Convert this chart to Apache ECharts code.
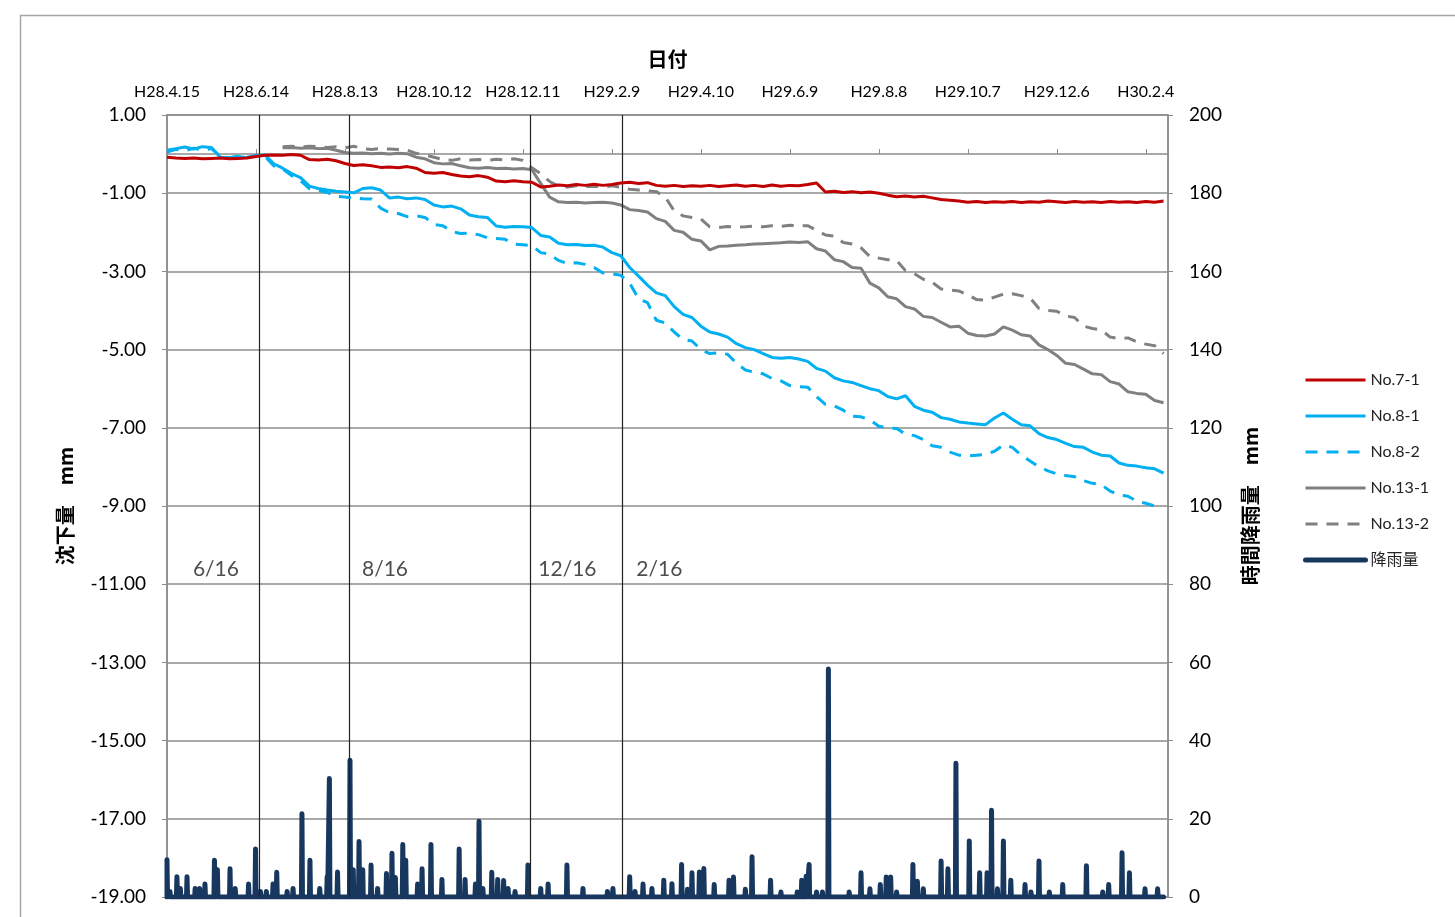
<!DOCTYPE html>
<html>
<head>
<meta charset="utf-8">
<script src="https://cdn.jsdelivr.net/npm/echarts@6/dist/echarts.min.js"></script>
<style>
html,body{margin:0;padding:0;background:#fff;}
#chart{width:1455px;height:917px;}
</style>
</head>
<body>
<div id="chart"></div>
<script>
// ---- tick labels ----
const xTickDays = [0,60,120,180,240,300,360,420,480,540,600,660];
const xTickLabels = ['H28.4.15','H28.6.14','H28.8.13','H28.10.12','H28.12.11','H29.2.9','H29.4.10','H29.6.9','H29.8.8','H29.10.7','H29.12.6','H30.2.4'];
const leftTicks = [-19,-17,-15,-13,-11,-9,-7,-5,-3,-1,1];

// ---- measurement days (days since H28.4.15) ----
const days = [0,6,12,18,24,30,36,42,48,54,60,66,72,78,84,90,96,102,108,114,120,126,132,138,144,150,156,162,168,174,180,186,192,198,204,210,216,222,228,234,240,246,252,258,264,270,276,282,288,294,300,306,312,318,324,330,336,342,348,354,360,366,372,378,384,390,396,402,408,414,420,426,432,438,444,450,456,462,468,474,480,486,492,498,504,510,516,522,528,534,540,546,552,558,564,570,576,582,588,594,600,606,612,618,624,630,636,642,648,654,660,666,672];

// ---- settlement (mm) ----
const no7_1 = [-0.08,-0.10,-0.11,-0.10,-0.12,-0.11,-0.10,-0.12,-0.11,-0.10,-0.06,-0.03,-0.02,-0.03,-0.01,-0.03,-0.14,-0.15,-0.13,-0.17,-0.24,-0.29,-0.27,-0.30,-0.34,-0.33,-0.35,-0.32,-0.36,-0.47,-0.49,-0.47,-0.52,-0.56,-0.58,-0.55,-0.59,-0.69,-0.71,-0.68,-0.71,-0.72,-0.84,-0.82,-0.79,-0.81,-0.78,-0.80,-0.77,-0.80,-0.78,-0.74,-0.72,-0.75,-0.73,-0.80,-0.82,-0.80,-0.83,-0.81,-0.82,-0.80,-0.83,-0.81,-0.79,-0.82,-0.80,-0.83,-0.79,-0.82,-0.80,-0.81,-0.78,-0.74,-0.97,-0.95,-0.98,-0.96,-0.99,-0.97,-1.00,-1.05,-1.09,-1.07,-1.10,-1.08,-1.12,-1.16,-1.18,-1.20,-1.23,-1.21,-1.24,-1.22,-1.23,-1.21,-1.24,-1.22,-1.23,-1.20,-1.22,-1.24,-1.21,-1.23,-1.22,-1.24,-1.21,-1.23,-1.22,-1.24,-1.21,-1.23,-1.20];
const no8_1 = [0.10,0.14,0.18,0.13,0.19,0.17,-0.08,-0.10,-0.06,-0.09,-0.04,-0.02,-0.25,-0.36,-0.50,-0.60,-0.82,-0.88,-0.92,-0.95,-0.97,-0.99,-0.88,-0.86,-0.92,-1.12,-1.10,-1.14,-1.12,-1.16,-1.30,-1.35,-1.33,-1.40,-1.56,-1.60,-1.62,-1.84,-1.87,-1.85,-1.86,-1.88,-2.08,-2.12,-2.28,-2.32,-2.31,-2.34,-2.33,-2.38,-2.52,-2.60,-2.90,-3.12,-3.35,-3.55,-3.62,-3.90,-4.10,-4.18,-4.40,-4.55,-4.60,-4.68,-4.85,-4.95,-5.00,-5.10,-5.20,-5.22,-5.20,-5.24,-5.30,-5.48,-5.55,-5.72,-5.80,-5.84,-5.92,-6.00,-6.05,-6.20,-6.26,-6.18,-6.45,-6.55,-6.60,-6.74,-6.78,-6.85,-6.88,-6.90,-6.92,-6.75,-6.62,-6.78,-6.92,-6.95,-7.15,-7.25,-7.30,-7.40,-7.48,-7.50,-7.62,-7.70,-7.72,-7.90,-7.96,-7.98,-8.02,-8.05,-8.16];
const no8_2 = [0.05,0.12,0.08,0.15,0.10,0.14,-0.06,-0.09,-0.05,-0.08,-0.04,-0.06,-0.30,-0.38,-0.55,-0.68,-0.88,-0.93,-0.98,-1.08,-1.10,-1.12,-1.14,-1.15,-1.38,-1.50,-1.52,-1.60,-1.58,-1.62,-1.80,-1.83,-1.98,-2.03,-2.02,-2.06,-2.14,-2.16,-2.18,-2.30,-2.32,-2.34,-2.52,-2.56,-2.72,-2.80,-2.78,-2.82,-2.90,-3.04,-3.06,-3.10,-3.30,-3.70,-3.80,-4.25,-4.32,-4.55,-4.74,-4.78,-5.00,-5.10,-5.08,-5.12,-5.35,-5.52,-5.58,-5.62,-5.74,-5.80,-5.92,-5.95,-5.96,-6.20,-6.40,-6.44,-6.55,-6.70,-6.72,-6.80,-6.96,-7.00,-7.02,-7.16,-7.20,-7.30,-7.46,-7.50,-7.62,-7.70,-7.72,-7.70,-7.68,-7.60,-7.44,-7.50,-7.70,-7.85,-8.00,-8.10,-8.18,-8.22,-8.25,-8.35,-8.42,-8.45,-8.62,-8.72,-8.75,-8.88,-8.93,-9.00,null];
const no13_1 = [null,null,null,null,null,null,null,null,null,null,null,null,null,0.16,0.17,0.15,0.16,0.14,0.15,0.10,0.04,0.02,0.03,0.01,0.02,0.00,0.02,0.01,-0.08,-0.12,-0.22,-0.25,-0.24,-0.30,-0.35,-0.36,-0.34,-0.37,-0.36,-0.38,-0.37,-0.40,-0.75,-1.10,-1.22,-1.24,-1.23,-1.25,-1.24,-1.23,-1.25,-1.30,-1.42,-1.44,-1.48,-1.65,-1.72,-1.95,-2.00,-2.18,-2.22,-2.45,-2.36,-2.35,-2.33,-2.32,-2.30,-2.29,-2.28,-2.27,-2.25,-2.26,-2.24,-2.42,-2.48,-2.70,-2.75,-2.90,-2.92,-3.30,-3.42,-3.65,-3.70,-3.90,-3.96,-4.15,-4.18,-4.30,-4.42,-4.40,-4.58,-4.64,-4.65,-4.60,-4.42,-4.50,-4.62,-4.65,-4.88,-5.00,-5.15,-5.35,-5.38,-5.50,-5.62,-5.64,-5.82,-5.88,-6.08,-6.12,-6.14,-6.30,-6.36];
const no13_2 = [null,null,null,null,null,null,null,null,null,null,null,null,null,0.19,0.20,0.18,0.20,0.19,0.17,0.19,0.16,0.20,0.14,0.12,0.14,0.13,0.12,0.10,0.02,-0.02,-0.08,-0.14,-0.16,-0.12,-0.15,-0.14,-0.16,-0.13,-0.15,-0.12,-0.16,-0.35,-0.50,-0.70,-0.82,-0.84,-0.81,-0.83,-0.82,-0.84,-0.81,-0.85,-0.90,-0.92,-0.94,-0.96,-1.10,-1.45,-1.58,-1.62,-1.66,-1.86,-1.88,-1.85,-1.87,-1.86,-1.84,-1.86,-1.83,-1.85,-1.82,-1.84,-1.83,-1.95,-2.07,-2.10,-2.26,-2.30,-2.40,-2.62,-2.66,-2.70,-2.72,-2.98,-3.06,-3.20,-3.28,-3.45,-3.48,-3.50,-3.60,-3.72,-3.74,-3.66,-3.58,-3.57,-3.62,-3.68,-3.95,-4.00,-4.02,-4.14,-4.18,-4.40,-4.46,-4.50,-4.68,-4.72,-4.70,-4.80,-4.86,-4.90,-5.10];

// ---- hourly rainfall (mm) ----
const rainDays = [0,2,6.7,9,13.5,19,22,25.6,32,34,42.5,46,55,59.7,63,67,71.5,74,81,85,91,96.4,103,108,109.5,115,123.4,125.6,129.5,132,137.6,142,148,151.7,154,159,161,169,172,178,185.4,197,201,208,210.4,213,219,223,227,230,234.7,243.4,252,257,269.7,280.5,297,300.7,312,315.6,321,327,335,340.5,347,351,354,359,362,369,379,382,390,394.5,407,414,425,428,431,433,438,442,446,460,468,474,481,485,488,492,503,506,510,522,526.6,532,541,548,553,556,560,564,569,578.6,582.6,588,595,604,620,631,635,644,649,659.5,668];
const rainValues = [9.5,1.4,5.2,2.2,5.2,2.2,2.2,3.3,9.4,7.0,7.2,2.2,3.3,12.3,1.4,1.4,3.3,6.3,1.4,2.2,21.3,9.4,2.2,5.2,30.3,6.4,35.0,7.0,14.2,7.0,8.2,2.2,6.0,11.2,5.0,13.4,9.4,3.3,7.2,13.4,4.5,12.3,4.5,3.3,19.4,2.2,6.3,4.5,4.2,2.2,1.4,8.2,2.2,3.3,8.2,2.2,1.4,2.2,5.2,1.4,3.3,2.2,4.3,3.4,8.3,2.0,6.2,6.4,7.3,3.2,4.3,5.1,2.0,10.3,4.3,1.3,1.3,4.3,5.3,8.3,1.3,1.3,58.3,1.3,6.2,2.1,3.2,5.1,5.1,1.3,8.3,4.0,2.1,9.2,7.2,34.2,14.3,6.2,6.2,22.2,2.1,14.3,4.3,3.2,1.3,9.2,1.3,3.2,8.0,1.3,3.2,11.3,6.2,2.1,2.1];

// ---- reference dates (vertical lines) ----
const refDays = [62,123,245,307];
const refLabels = ['6/16','8/16','12/16','2/16'];
const refLabelDays = [33,147,270,332];
const refLabelValue = -10.62;

const xMax = 675;
const rainEnd = 672;

function pair(vals){ return days.map((d,i)=>[d, vals[i]]); }
function rainLine(){
  const out = [[0,0]];
  rainDays.forEach((d,i)=>{
    out.push([Math.max(0,d-0.35),0]);
    out.push([d,rainValues[i]]);
    out.push([d+0.35,0]);
  });
  out.push([rainEnd,0]);
  return out;
}

const LATIN = 'Lato, "Noto Sans CJK JP", sans-serif';
const JP = '"Noto Sans CJK JP", sans-serif';
const RED = '#C00000', CYAN = '#00B0F0', GRAY = '#808080', NAVY = '#17375E';

const chart = echarts.init(document.getElementById('chart'));
const lineBase = {type:'line', symbol:'none', showSymbol:false, connectNulls:false, xAxisIndex:0, yAxisIndex:0, animation:false};

chart.setOption({
  animation:false,
  textStyle:{fontFamily:LATIN},
  graphic:[{type:'rect', shape:{x:20.5,y:15.5,width:1460,height:940}, style:{fill:'none', stroke:'#A6A6A6', lineWidth:1.5}, silent:true}],
  grid:{left:167, right:287, top:115, bottom:20, show:true, borderColor:'#8C8C8C', borderWidth:1.5, containLabel:false},
  legend:{
    orient:'vertical', left:1303, top:372, padding:0,
    itemWidth:60, itemHeight:14, itemGap:20,
    itemStyle:{opacity:0},
    lineStyle:{width:'inherit', type:'inherit'},
    textStyle:{fontSize:16, color:'#222', fontFamily:LATIN},
    data:['No.7-1','No.8-1','No.8-2','No.13-1','No.13-2','降雨量']
  },
  xAxis:{
    type:'value', position:'top', min:0, max:xMax,
    name:'日付', nameLocation:'middle', nameGap:46,
    nameTextStyle:{fontFamily:JP, fontSize:20, fontWeight:'bold', color:'#000'},
    axisLine:{show:true, lineStyle:{color:'#8C8C8C', width:1.5}},
    axisTick:{show:true, inside:false, length:5, lineStyle:{color:'#8C8C8C'}, customValues:xTickDays},
    axisLabel:{customValues:xTickDays, margin:15, fontSize:16, color:'#000', fontFamily:LATIN,
      formatter:(v)=>{const i=xTickDays.indexOf(v); return i>=0?xTickLabels[i]:'';}},
    splitLine:{show:false}
  },
  yAxis:[{
    type:'value', position:'left', min:-19, max:1,
    name:'沈下量　mm', nameLocation:'middle', nameGap:92, nameRotate:90,
    nameTextStyle:{fontFamily:JP, fontSize:20, fontWeight:'bold', color:'#000'},
    axisLine:{show:true, lineStyle:{color:'#8C8C8C', width:1.5}},
    axisTick:{show:true, length:5, lineStyle:{color:'#8C8C8C'}, customValues:leftTicks},
    axisLabel:{customValues:leftTicks, margin:21, fontSize:19, color:'#000', fontFamily:LATIN, formatter:(v)=>v.toFixed(2)},
    splitLine:{show:false}
  },{
    type:'value', position:'right', min:0, max:200, interval:20,
    name:'時間降雨量　mm', nameLocation:'middle', nameGap:72, nameRotate:90,
    nameTextStyle:{fontFamily:JP, fontSize:20, fontWeight:'bold', color:'#000'},
    axisLine:{show:true, lineStyle:{color:'#8C8C8C', width:1.5}},
    axisTick:{show:true, length:5, lineStyle:{color:'#8C8C8C'}},
    axisLabel:{margin:21, fontSize:19, color:'#000', fontFamily:LATIN},
    splitLine:{show:true, lineStyle:{color:'#8C8C8C', width:1.5}}
  }],
  series:[
    Object.assign({}, lineBase, {name:'降雨量', yAxisIndex:1, data:rainLine(), z:3,
      lineStyle:{color:NAVY, width:5, cap:'round', join:'round'}, itemStyle:{color:NAVY},
      markLine:{silent:true, symbol:'none', label:{show:false}, animation:false,
        lineStyle:{color:'#222', width:1.2, type:'solid'},
        data:refDays.map(d=>({xAxis:d}))}
    }),
    Object.assign({}, lineBase, {name:'No.13-2', data:pair(no13_2), z:4, lineStyle:{color:GRAY, width:3, type:[12,9]}, itemStyle:{color:GRAY}}),
    Object.assign({}, lineBase, {name:'No.13-1', data:pair(no13_1), z:4, lineStyle:{color:GRAY, width:3}, itemStyle:{color:GRAY}}),
    Object.assign({}, lineBase, {name:'No.8-2', data:pair(no8_2), z:5, lineStyle:{color:CYAN, width:3, type:[12,9]}, itemStyle:{color:CYAN}}),
    Object.assign({}, lineBase, {name:'No.8-1', data:pair(no8_1), z:5, lineStyle:{color:CYAN, width:3}, itemStyle:{color:CYAN}}),
    Object.assign({}, lineBase, {name:'No.7-1', data:pair(no7_1), z:6, lineStyle:{color:RED, width:3}, itemStyle:{color:RED}}),
    {type:'scatter', name:'refLabels', symbolSize:0, silent:true, z:7,
     data:refLabels.map((t,i)=>({name:t, value:[refLabelDays[i], refLabelValue]})),
     label:{show:true, position:'inside', formatter:'{b}', fontSize:21, color:'#222', fontFamily:LATIN}}
  ]
});
</script>
</body>
</html>
